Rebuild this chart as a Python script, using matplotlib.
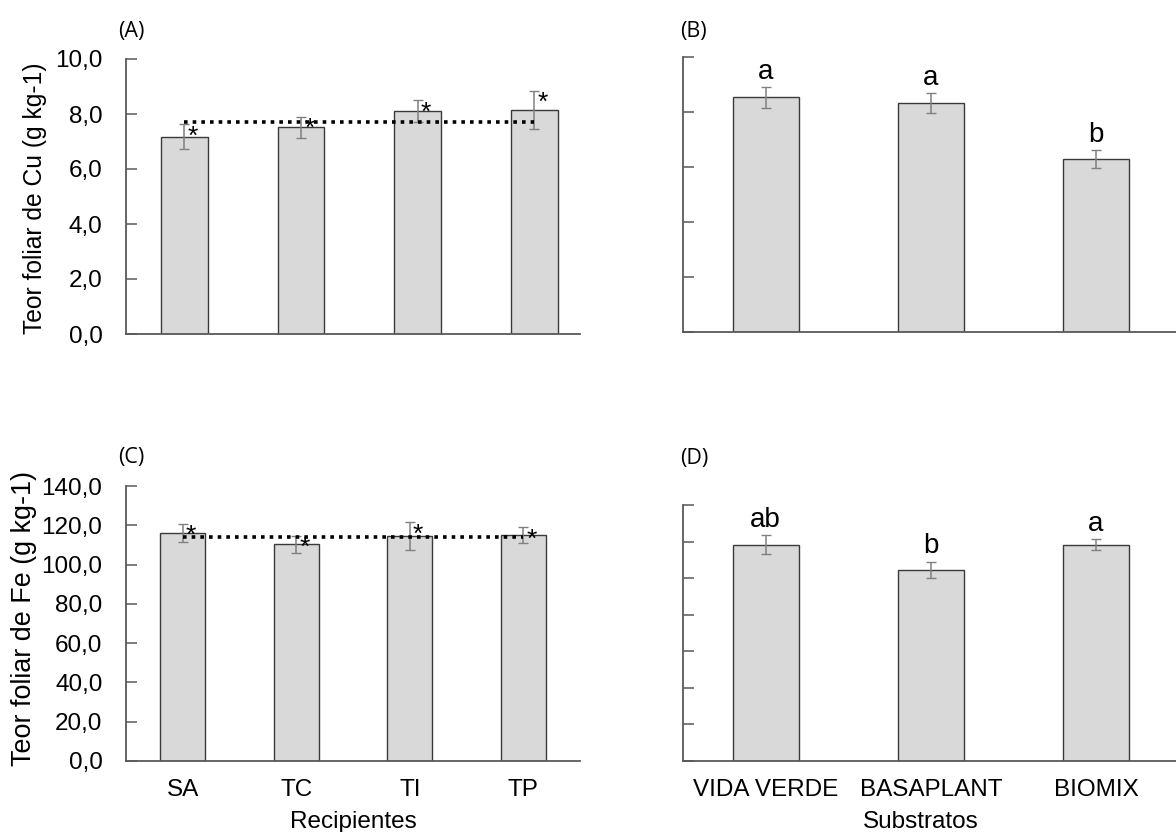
import matplotlib
matplotlib.use("Agg")
import matplotlib.pyplot as plt
from matplotlib.ticker import FuncFormatter, MultipleLocator

plt.rcParams["font.family"] = ["Liberation Sans", "DejaVu Sans"]

# Data
recipientes = ["SA", "TC", "TI", "TP"]
substratos = ["VIDA VERDE", "BASAPLANT", "BIOMIX"]

cu_recip = [7.17, 7.51, 8.11, 8.15]
cu_recip_err = [0.45, 0.39, 0.39, 0.69]
cu_recip_mean = 7.72

cu_sub = [8.53, 8.33, 6.29]
cu_sub_err = [0.37, 0.36, 0.33]
cu_sub_letters = ["a", "a", "b"]

fe_recip = [116.0, 110.4, 114.5, 114.9]
fe_recip_err = [4.7, 4.3, 7.2, 4.1]
fe_recip_mean = 114.2

fe_sub = [118.3, 104.7, 118.3]
fe_sub_err = [5.1, 4.4, 2.9]
fe_sub_letters = ["ab", "b", "a"]

W, H = 1176, 832
BAR_FC = "#d9d9d9"
BAR_EC = "#3a3a3a"
AXIS_C = "#595959"
ERR_C = "#808080"


def px_axes(fig, left, top, right, bottom):
    return fig.add_axes([left / W, 1 - bottom / H, (right - left) / W, (bottom - top) / H])


def comma(v, _):
    return f"{v:.1f}".replace(".", ",")


def style(ax, ymax, step, labels):
    ax.set_ylim(0, ymax)
    ax.yaxis.set_major_locator(MultipleLocator(step))
    for s in ("top", "right"):
        ax.spines[s].set_visible(False)
    for s in ("left", "bottom"):
        ax.spines[s].set_color(AXIS_C)
        ax.spines[s].set_linewidth(1.3)
    ax.tick_params(axis="y", direction="in", length=8, width=1.1,
                   color=AXIS_C, pad=17, labelsize=17.5)
    ax.tick_params(axis="x", length=0, pad=13, labelsize=17.5)
    if labels:
        ax.yaxis.set_major_formatter(FuncFormatter(comma))
    else:
        ax.set_yticklabels([])


def bars(ax, cats, vals, errs):
    x = range(len(cats))
    ax.bar(x, vals, width=0.40, color=BAR_FC, edgecolor=BAR_EC, linewidth=1.0,
           zorder=2)
    ax.errorbar(x, vals, yerr=errs, fmt="none", ecolor=ERR_C, elinewidth=1.1,
                capsize=3.5, capthick=1.0, zorder=3)
    ax.set_xticks(list(x))
    ax.set_xticklabels(cats)


def recip_panel(ax, vals, errs, mean, ymax, step, xmax):
    bars(ax, recipientes, vals, errs)
    ax.set_xlim(-0.5, xmax)
    ax.plot([0, len(vals) - 1], [mean, mean], color="black", lw=2.6,
            linestyle=(0, (1, 1.4)), zorder=4)
    for i, (v, e) in enumerate(zip(vals, errs)):
        ax.annotate("*", (i, v + e), xytext=(6, -14), textcoords="offset points",
                    ha="center", va="baseline", fontsize=19, zorder=5)
    style(ax, ymax, step, True)


def sub_panel(ax, vals, errs, letters, ymax, step):
    bars(ax, substratos, vals, errs)
    ax.set_xlim(-0.5, 2.5)
    for i, (v, e, t) in enumerate(zip(vals, errs, letters)):
        ax.annotate(t, (i, v + e), xytext=(0, 6), textcoords="offset points",
                    ha="center", va="baseline", fontsize=20)
    style(ax, ymax, step, False)


fig = plt.figure(figsize=(W / 100, H / 100), dpi=100)

ax_a = px_axes(fig, 126, 59, 580, 334)
recip_panel(ax_a, cu_recip, cu_recip_err, cu_recip_mean, 10, 2, 3.39)
ax_a.set_xticklabels([])

ax_b = px_axes(fig, 683, 57, 1178.5, 332)
sub_panel(ax_b, cu_sub, cu_sub_err, cu_sub_letters, 10, 2)
ax_b.set_xticklabels([])

ax_c = px_axes(fig, 126, 486, 580, 761)
recip_panel(ax_c, fe_recip, fe_recip_err, fe_recip_mean, 140, 20, 3.5)

ax_d = px_axes(fig, 683, 505, 1178.5, 761)
sub_panel(ax_d, fe_sub, fe_sub_err, fe_sub_letters, 140, 20)

# axis titles
fig.text(35 / W, 1 - 198 / H, "Teor foliar de Cu (g kg-1)", rotation=90,
         ha="center", va="center", fontsize=17.7)
fig.text(24 / W, 1 - 618 / H, "Teor foliar de Fe (g kg-1)", rotation=90,
         ha="center", va="center", fontsize=19.4)
fig.text(353 / W, 1 - 822 / H, "Recipientes", ha="center", va="center",
         fontsize=17.5)
fig.text(921 / W, 1 - 822 / H, "Substratos", ha="center", va="center",
         fontsize=17.5)

# panel tags
for tx, ty, tag in [(118, 32, "(A)"), (680, 32, "(B)"),
                    (118, 457, "(C)"), (680, 458, "(D)")]:
    fig.text(tx / W, 1 - ty / H, tag, ha="left", va="center", fontsize=15.5,
             family=["Open Sans", "DejaVu Sans"])

fig.savefig("out.png", dpi=100, facecolor="white")
